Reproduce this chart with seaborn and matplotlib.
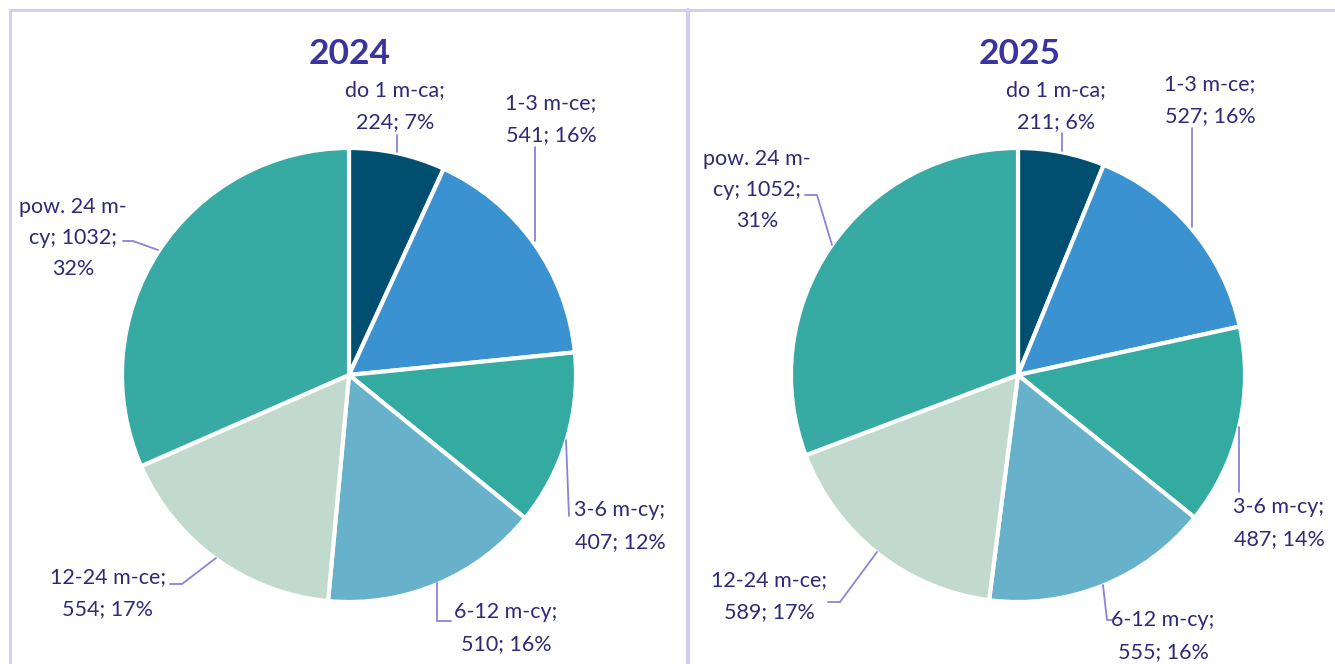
"""
Two pie charts: distribution by duration, 2024 vs 2025.
"""
import matplotlib
matplotlib.use("Agg")
import matplotlib.pyplot as plt
import seaborn as sns

sns.set_theme(style="white")
plt.rcParams["font.family"] = ["Lato", "DejaVu Sans"]

# --- data ---
CATEGORIES = ["do 1 m-ca", "1-3 m-ce", "3-6 m-cy", "6-12 m-cy", "12-24 m-ce", "pow. 24 m-cy"]
VALUES_2024 = [224, 541, 407, 510, 554, 1032]
VALUES_2025 = [211, 527, 487, 555, 589, 1052]
PCT_2024 = ["7%", "16%", "12%", "16%", "17%", "32%"]
PCT_2025 = ["6%", "16%", "14%", "16%", "17%", "31%"]
YEARS = ["2024", "2025"]

COLORS = ["#004f70", "#3a93d0", "#33aba1", "#67b2ca", "#c2d9cd", "#36aaa3"]
TEXT_C = "#2e2a78"
TITLE_C = "#3a34a0"
LEADER_C = "#8a84d8"
FRAME_C = "#d0cdf0"

W, H = 1335, 664

# label text as wrapped in the reference
LABELS_2024 = ["do 1 m-ca;\n224; 7%", "1-3 m-ce;\n541; 16%", "3-6 m-cy;\n407; 12%",
               "6-12 m-cy;\n510; 16%", "12-24 m-ce;\n554; 17%", "pow. 24 m-\ncy; 1032;\n32%"]
LABELS_2025 = ["do 1 m-ca;\n211; 6%", "1-3 m-ce;\n527; 16%", "3-6 m-cy;\n487; 14%",
               "6-12 m-cy;\n555; 16%", "12-24 m-ce;\n589; 17%", "pow. 24 m-\ncy; 1052;\n31%"]

# layout (pixel coords, y from top)
PIE_CENTERS = [(349, 375), (1018, 375)]
RADIUS = 227
TITLE_POS = [(350, 54), (1020, 54)]
LABEL_POS = [
    [(395, 106), (551, 119), (620, 526), (506, 628), (108, 593), (73, 238)],
    [(1056, 106), (1210, 100), (1279, 523), (1163, 636), (769, 596), (757, 190)],
]
LEADERS = [
    [[(397, 135), (397, 152)], [(535, 147), (535, 241)], [(566, 440), (569, 516)],
     [(437, 583), (437, 621), (451, 621)], [(216, 558), (182, 584), (170, 584)],
     [(123, 241), (133, 241), (158, 250)]],
    [[(1062, 133), (1062, 151)], [(1192, 128), (1192, 227)], [(1239, 427), (1239, 492)],
     [(1103, 585), (1107, 620), (1112, 620)], [(828, 602), (840, 602), (877, 552)],
     [(805, 195), (817, 195), (832, 245)]],
]


def fy(y):
    return H - y


fig = plt.figure(figsize=(W / 100, H / 100), dpi=100)
ax = fig.add_axes([0, 0, 1, 1])

for i, vals in enumerate([VALUES_2024, VALUES_2025]):
    cx, cy = PIE_CENTERS[i]
    ax.pie(vals, colors=COLORS, startangle=90, counterclock=False,
           center=(cx, fy(cy)), radius=RADIUS, frame=True,
           wedgeprops=dict(edgecolor="white", linewidth=3))
    tx, ty = TITLE_POS[i]
    ax.text(tx, fy(ty), YEARS[i], ha="center", va="center", fontsize=25.5,
            fontweight="bold", color=TITLE_C)
    labels = [LABELS_2024, LABELS_2025][i]
    for lab, (lx, ly) in zip(labels, LABEL_POS[i]):
        ax.text(lx, fy(ly), lab, ha="center", va="center", fontsize=15.5,
                color=TEXT_C, linespacing=1.7)
    for pts in LEADERS[i]:
        xs = [p[0] for p in pts]
        ys = [fy(p[1]) for p in pts]
        ax.plot(xs, ys, color=LEADER_C, lw=1.3)

# panel frame
ax.plot([10, W], [fy(10), fy(10)], color=FRAME_C, lw=2)
ax.plot([10, 10], [fy(10), 0], color=FRAME_C, lw=2)
ax.plot([688, 688], [fy(10), 0], color=FRAME_C, lw=3)

ax.set_xlim(0, W)
ax.set_ylim(0, H)
ax.set_aspect("equal", adjustable="box")
ax.axis("off")

fig.savefig("out.png", dpi=100)
